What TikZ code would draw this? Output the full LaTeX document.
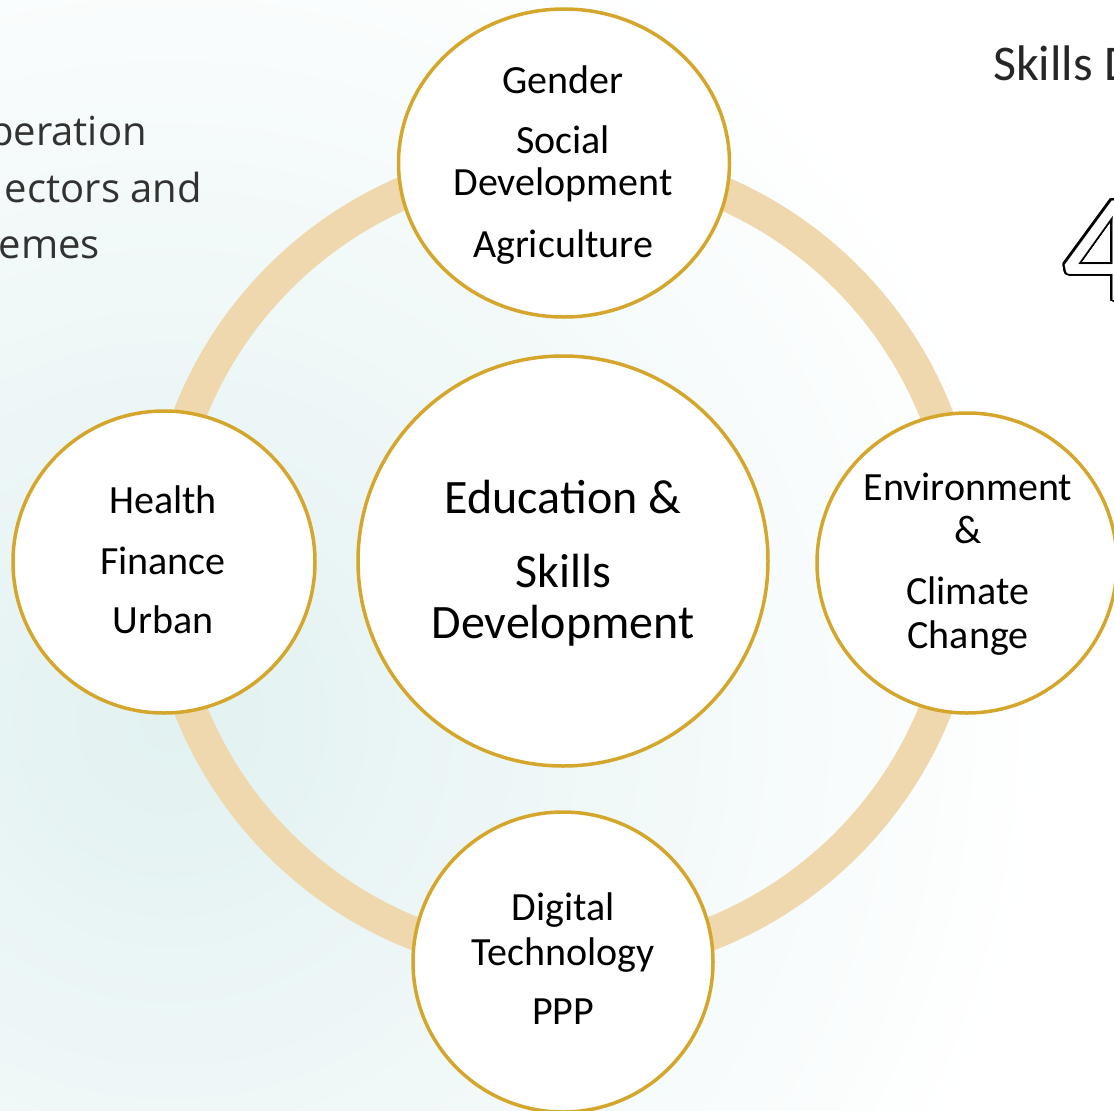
\documentclass[tikz,border=0pt]{standalone}
\usepackage{fontspec}
\setmainfont{Carlito}
\newfontfamily\sidefont{Open Sans}
\usepackage[copies]{contour}
\usetikzlibrary{shapes.geometric}
\definecolor{gold}{RGB}{212,167,44}
\definecolor{sand}{RGB}{240,216,174}
\definecolor{mist}{RGB}{226,241,241}
\definecolor{slate}{RGB}{50,50,50}
\tikzset{
    bubble/.style={
        draw=gold,
        line width=3.5pt,
        fill=white,
        circle,
        inner sep=0pt
    },
    ring/.style={draw=sand, line width=33pt},
    lbl/.style={anchor=base, inner sep=0pt, font=\fontsize{40}{48}\selectfont},
    hublbl/.style={anchor=base, inner sep=0pt, font=\fontsize{48}{56}\selectfont},
    side/.style={anchor=base east, inner sep=0pt, text=slate, font=\sidefont\fontsize{40}{48}\selectfont}
}

\begin{document}
\begin{tikzpicture}[x=1pt, y=-1pt]
  \useasboundingbox (0,0) rectangle (1114,1111);
  \clip (0,0) rectangle (1114,1111);

  % Background glow
  \shade[inner color=mist, outer color=white] (170,720) circle (880);

  % Side texts (cut by the page edge)
  \node[side] (s1) at (147,145) {peration};
  \node[side] (s2) at (202,202) {ectors and};
  \node[side] (s3) at (100,258) {emes};
  \node[anchor=base west, inner sep=0pt, text=black!85, font=\fontsize{50}{56}\selectfont] (sk) at (993,80) {Skills D};
  \contourlength{2pt}\contournumber{32}
  \node[anchor=base west, inner sep=0pt, font=\fontsize{155}{160}\selectfont] (four) at (1062,300) {\contour{black}{\textcolor{white}{4}}};

  % Ring behind the circles
  \coordinate (mid) at (563,561);
  \draw[ring] (mid) circle (401);

  % Circles
  \node[bubble, minimum size=410pt] (hub) at (mid) {};
  \node[bubble, ellipse, minimum width=331pt, minimum height=308pt] (top) at (564,163) {};
  \node[bubble, minimum size=302pt] (lft) at (164,562) {};
  \node[bubble, minimum size=300pt] (rgt) at (967,563) {};
  \node[bubble, minimum size=300pt] (bot) at (563,962) {};

  % Centre
  \node[hublbl] (h1) at (563,513) {Education \&};
  \node[hublbl] (h2) at (563,587) {Skills};
  \node[hublbl] (h3) at (563,638) {Development};

  % Top
  \node[lbl] (t1) at (563,93) {Gender};
  \node[lbl] (t2) at (563,153) {Social};
  \node[lbl] (t3) at (563,195) {Development};
  \node[lbl] (t4) at (563,257) {Agriculture};

  % Left
  \node[lbl] (l1) at (163,513) {Health};
  \node[lbl] (l2) at (163,574) {Finance};
  \node[lbl] (l3) at (163,633) {Urban};

  % Right
  \node[lbl] (r1) at (968,500) {Environment};
  \node[lbl] (r2) at (968,543) {\&};
  \node[lbl] (r3) at (968,604) {Climate};
  \node[lbl] (r4) at (968,648) {Change};

  % Bottom
  \node[lbl] (b1) at (563,920) {Digital};
  \node[lbl] (b2) at (563,965) {Technology};
  \node[lbl] (b3) at (563,1024) {PPP};
\end{tikzpicture}
\end{document}
